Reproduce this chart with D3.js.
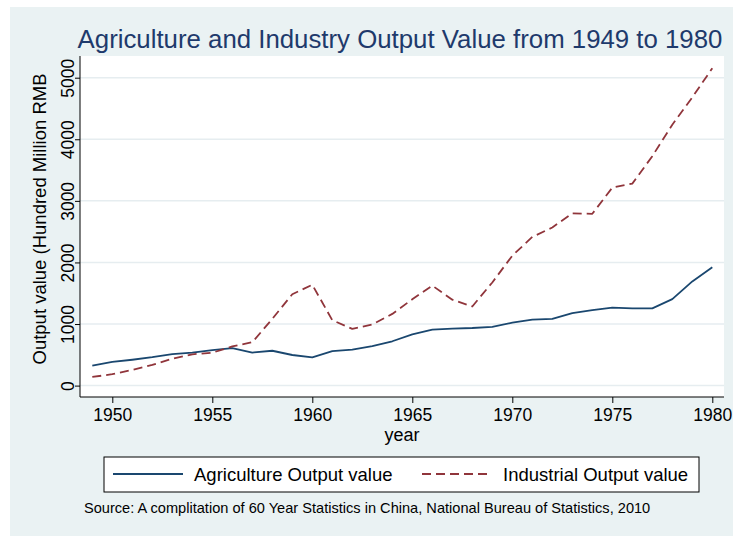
<!DOCTYPE html>
<html>
<head>
<meta charset="utf-8">
<script src="https://cdn.jsdelivr.net/npm/d3@7/dist/d3.min.js"></script>
<style>
  html, body { margin: 0; padding: 0; background: #ffffff; }
  svg { display: block; font-family: "Liberation Sans", Arial, sans-serif; }
</style>
</head>
<body>
<svg id="chart" width="733" height="536"></svg>
<script>
// Gross output value, hundred million RMB
const years = d3.range(1949, 1981);
const agricultureValues = [326, 384, 420, 461, 510, 535, 575, 610, 537, 566, 497, 457,
  559, 584, 642, 720, 833, 910, 926, 935, 955, 1021, 1073, 1082, 1178, 1225,
  1265, 1255, 1255, 1405, 1692, 1923];
const industryValues = [140, 185, 255, 335, 438, 508, 534, 636, 704, 1083, 1483, 1637,
  1062, 920, 993, 1164, 1402, 1624, 1395, 1285, 1675, 2110, 2414, 2568, 2796, 2790,
  3215, 3280, 3725, 4237, 4681, 5154];
const seriesNames = ["Agriculture Output value", "Industrial Output value"];
const yTicks = [0, 1000, 2000, 3000, 4000, 5000];
const xTicks = [1950, 1955, 1960, 1965, 1970, 1975, 1980];

const titleText = "Agriculture and Industry Output Value from 1949 to 1980";
const yTitle = "Output value (Hundred Million RMB";
const xTitle = "year";
const sourceText = "Source: A complitation of 60 Year Statistics in China, National Bureau of Statistics, 2010";

const colors = ["#1a476f", "#90353b"];
const dashes = [null, "9,5"];
const font = '"Liberation Sans", Arial, sans-serif';

const svg = d3.select("#chart");

// Plot region bounds
const plot = { left: 80, right: 724, top: 56, bottom: 397 };

// Graph region background
svg.append("rect").attr("x", 10).attr("y", 7).attr("width", 723).attr("height", 529)
  .attr("fill", "#eaf2f3");
svg.append("rect").attr("x", plot.left).attr("y", plot.top)
  .attr("width", plot.right - plot.left).attr("height", plot.bottom - plot.top)
  .attr("fill", "#ffffff");

const x = d3.scaleLinear().domain([1949, 1980]).range([92.3, 712.3]);
const y = d3.scaleLinear().domain([0, 5000]).range([385.6, 77.7]);

// Horizontal grid lines
svg.append("g").selectAll("line").data(yTicks).join("line")
  .attr("x1", plot.left).attr("x2", plot.right)
  .attr("y1", d => y(d)).attr("y2", d => y(d))
  .attr("stroke", "#e6edf0").attr("stroke-width", 1.5);

// Y axis
const yAxis = svg.append("g").attr("transform", `translate(${plot.left},0)`)
  .call(d3.axisLeft(y).tickValues(yTicks).tickSize(5).tickFormat(d3.format("d")));
yAxis.select(".domain").remove();
yAxis.selectAll(".tick line").attr("stroke", "#000").attr("stroke-width", 1);
yAxis.selectAll(".tick text")
  .attr("transform", "rotate(-90)")
  .attr("x", 0).attr("y", -6).attr("dy", 0)
  .attr("text-anchor", "middle")
  .attr("fill", "#000").attr("font-size", 17.5).attr("font-family", font);
svg.append("line").attr("x1", plot.left).attr("x2", plot.left)
  .attr("y1", plot.top).attr("y2", plot.bottom).attr("stroke", "#000").attr("stroke-width", 1);

// X axis
const xAxis = svg.append("g").attr("transform", `translate(0,${plot.bottom})`)
  .call(d3.axisBottom(x).tickValues(xTicks).tickSize(6).tickFormat(d3.format("d")));
xAxis.select(".domain").remove();
xAxis.selectAll(".tick line").attr("stroke", "#000").attr("stroke-width", 1);
xAxis.selectAll(".tick text")
  .attr("y", 24).attr("dy", 0)
  .attr("fill", "#000").attr("font-size", 17.5).attr("font-family", font);
svg.append("line").attr("x1", plot.left).attr("x2", plot.right)
  .attr("y1", plot.bottom).attr("y2", plot.bottom).attr("stroke", "#000").attr("stroke-width", 1);

// Series lines
const series = [agricultureValues, industryValues];
const line = d3.line().x((d, i) => x(years[i])).y(d => y(d));
svg.append("g").selectAll("path").data(series).join("path")
  .attr("d", d => line(d))
  .attr("fill", "none")
  .attr("stroke", (d, i) => colors[i])
  .attr("stroke-width", 1.8)
  .attr("stroke-dasharray", (d, i) => dashes[i])
  .attr("stroke-linejoin", "round");

// Titles
svg.append("text").attr("x", 400).attr("y", 48).attr("text-anchor", "middle")
  .attr("font-size", 25.8).attr("fill", "#1e3a6c").attr("font-family", font)
  .text(titleText);
svg.append("text").attr("transform", "translate(46,219) rotate(-90)")
  .attr("text-anchor", "middle").attr("font-size", 18.5).attr("fill", "#000")
  .attr("font-family", font).text(yTitle);
svg.append("text").attr("x", 402).attr("y", 441).attr("text-anchor", "middle")
  .attr("font-size", 18).attr("fill", "#000").attr("font-family", font).text(xTitle);

// Legend
const legend = svg.append("g");
legend.append("rect").attr("x", 104).attr("y", 457).attr("width", 595).attr("height", 35)
  .attr("fill", "#fff").attr("stroke", "#000").attr("stroke-width", 1);
const legendItems = [
  { lx: 113, tx: 194 },
  { lx: 422, tx: 503 }
];
const li = legend.selectAll("g.item").data(seriesNames).join("g").attr("class", "item");
li.append("line")
  .attr("x1", (d, i) => legendItems[i].lx).attr("x2", (d, i) => legendItems[i].lx + 70)
  .attr("y1", 474).attr("y2", 474)
  .attr("stroke", (d, i) => colors[i]).attr("stroke-width", 1.8)
  .attr("stroke-dasharray", (d, i) => dashes[i]);
li.append("text")
  .attr("x", (d, i) => legendItems[i].tx).attr("y", 481)
  .attr("font-size", 18.5).attr("fill", "#000").attr("font-family", font)
  .text(d => d);

// Source note
svg.append("text").attr("x", 84).attr("y", 513).attr("font-size", 14.6)
  .attr("fill", "#000").attr("font-family", font).text(sourceText);
</script>
</body>
</html>
